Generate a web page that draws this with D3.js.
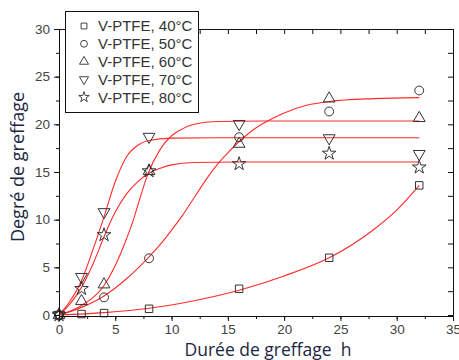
<!DOCTYPE html>
<html><head><meta charset="utf-8">
<script src="https://cdn.jsdelivr.net/npm/d3@7"></script>
<style>
html,body{margin:0;padding:0;background:#fff;}
svg{display:block;}
</style></head>
<body>
<svg id="chart" width="459" height="360"></svg>
<script>
// ---- data ----
const hours = [0, 2, 4, 8, 16, 24, 32];
const hours50 = [0, 4, 8, 16, 24, 32];
const labels = ["V-PTFE, 40°C","V-PTFE, 50°C","V-PTFE, 60°C","V-PTFE, 70°C","V-PTFE, 80°C"];
const d40 = [0, 0.1, 0.2, 0.65, 2.75, 6.0, 13.6];
const d50 = [0, 1.85, 5.95, 18.65, 21.35, 23.55];
const d60 = [0, 1.45, 3.2, 15.1, 17.95, 22.7, 20.65];
const d70 = [0, 4.0, 10.8, 18.7, 20.05, 18.55, 16.9];
const d80 = [0, 2.75, 8.4, 15.1, 15.85, 16.95, 15.5];

// fitted curves
const f40x = [0, 4, 8, 12, 16, 20, 24, 28, 30, 32];
const f40y = [0, 0.25, 0.7, 1.5, 2.6, 4.1, 6.0, 9.0, 11.0, 13.6];
const f50x = [0, 2, 4, 6, 8, 9, 10, 11, 12, 13, 14, 15, 16, 17, 18, 20, 22, 24, 28, 32];
const f50y = [0, 0.8, 2.0, 3.8, 6.1, 7.4, 8.9, 10.5, 12.3, 14.1, 15.7, 17.0, 18.2, 19.2, 20.0, 21.2, 22.0, 22.4, 22.7, 22.8];
const f60x = [0, 2, 4, 5, 6, 6.6, 7, 7.9, 9, 10, 11, 12, 14, 18, 32];
const f60y = [0, 1.0, 3.1, 5.2, 8.0, 9.95, 11.5, 14.8, 17.4, 18.8, 19.55, 20.0, 20.3, 20.35, 20.35];
const f70x = [0, 1, 2, 3, 4, 5, 6, 7, 8, 10, 14, 32];
const f70y = [0, 1.5, 3.6, 6.8, 10.3, 14.0, 16.6, 17.8, 18.3, 18.55, 18.6, 18.6];
const f80x = [0, 1, 2, 3, 4, 4.5, 5, 6, 7, 8, 9, 10, 12, 16, 32];
const f80y = [0, 1.2, 2.9, 5.3, 8.2, 9.6, 10.8, 12.7, 14.0, 14.9, 15.4, 15.75, 16.0, 16.05, 16.05];

const xTicks = [0, 5, 10, 15, 20, 25, 30, 35];
const yTicks = [0, 5, 10, 15, 20, 25, 30];
const xTitle = "Durée de greffage  h";
const yTitle = "Degré de greffage";

// ---- layout ----
const svg = d3.select("#chart");
const L = 59, R = 453, T = 29, B = 316;
const x = d3.scaleLinear().domain([0, 35]).range([L, R]);
const y = d3.scaleLinear().domain([0, 30]).range([B - 1, T]);

const series = [
  {xs: hours, ys: d40, fx: f40x, fy: f40y, sym: d3.symbolSquare, size: 56, rot: 0},
  {xs: hours50, ys: d50, fx: f50x, fy: f50y, sym: d3.symbolCircle, size: 62, rot: 0},
  {xs: hours, ys: d60, fx: f60x, fy: f60y, sym: d3.symbolTriangle, size: 60, rot: 0},
  {xs: hours, ys: d70, fx: f70x, fy: f70y, sym: d3.symbolTriangle, size: 60, rot: 180},
  {xs: hours, ys: d80, fx: f80x, fy: f80y, sym: d3.symbolStar, size: 58, rot: 0}
];

// curves
const line = d3.line().x(d => x(d[0])).y(d => y(d[1])).curve(d3.curveMonotoneX);
const gc = svg.append("g");
series.forEach(s => {
  gc.append("path").datum(d3.zip(s.fx, s.fy))
    .attr("d", line).attr("fill", "none")
    .attr("stroke", "#ff2b2b").attr("stroke-width", 1.1);
});

// markers
const gm = svg.append("g");
series.forEach(s => {
  gm.selectAll(null).data(d3.zip(s.xs, s.ys)).join("path")
    .attr("d", d3.symbol(s.sym, s.size))
    .attr("transform", d => `translate(${x(d[0])},${y(d[1])}) rotate(${s.rot})`)
    .attr("fill", "none").attr("stroke", "#333").attr("stroke-width", 1);
});

// axes
const minorX = d3.range(0, 35.01, 2.5);
const minorY = d3.range(0, 30.01, 2.5);
const fmt = d3.format("d");
svg.append("g").attr("transform", `translate(0,${B})`)
  .call(d3.axisBottom(x).tickValues(xTicks).tickSize(5).tickPadding(3).tickFormat(fmt));
svg.append("g").attr("transform", `translate(0,${B})`)
  .call(d3.axisBottom(x).tickValues(minorX).tickSize(3).tickFormat(""));
svg.append("g").attr("transform", `translate(${L},0)`)
  .call(d3.axisLeft(y).tickValues(yTicks).tickSize(5).tickPadding(4).tickFormat(fmt));
svg.append("g").attr("transform", `translate(${L},0)`)
  .call(d3.axisLeft(y).tickValues(minorY).tickSize(3).tickFormat(""));
svg.append("g").attr("transform", `translate(0,${T})`)
  .call(d3.axisBottom(x).tickValues(minorX).tickSize(5).tickFormat(""));
svg.append("g").attr("transform", `translate(${R},0)`)
  .call(d3.axisLeft(y).tickValues(minorY).tickSize(5).tickFormat(""));
svg.selectAll(".domain").attr("stroke", "#111");
svg.selectAll(".tick line").attr("stroke", "#111");
svg.selectAll(".tick text").attr("font-family", "Liberation Sans, Arial, sans-serif")
  .attr("font-size", 13.5).attr("fill", "#444");

// legend
const lg = svg.append("g");
lg.append("rect").attr("x", 65.5).attr("y", 11.5).attr("width", 133).attr("height", 101)
  .attr("fill", "#fff").attr("stroke", "#111").attr("stroke-width", 1);
series.forEach((s, i) => {
  const cy = 26 + i * 17.8;
  lg.append("path").attr("d", d3.symbol(s.sym, s.size * 0.6))
    .attr("transform", `translate(84,${cy}) rotate(${s.rot})`)
    .attr("fill", "none").attr("stroke", "#444").attr("stroke-width", 1);
  lg.append("text").attr("x", 98).attr("y", cy).attr("dy", "0.36em")
    .attr("font-family", "Liberation Sans, Arial, sans-serif").attr("font-size", 15)
    .attr("fill", "#333").text(labels[i]);
});

// titles
svg.append("text").attr("x", 268).attr("y", 356).attr("text-anchor", "middle")
  .style("white-space", "pre")
  .attr("font-family", "Open Sans, sans-serif").attr("font-size", 17.5)
  .attr("fill", "#1c2642").text(xTitle);
svg.append("text").attr("transform", "translate(24,167) rotate(-90)").attr("text-anchor", "middle")
  .attr("font-family", "Open Sans, sans-serif").attr("font-size", 18)
  .attr("fill", "#1c2642").text(yTitle);
</script>
</body></html>
